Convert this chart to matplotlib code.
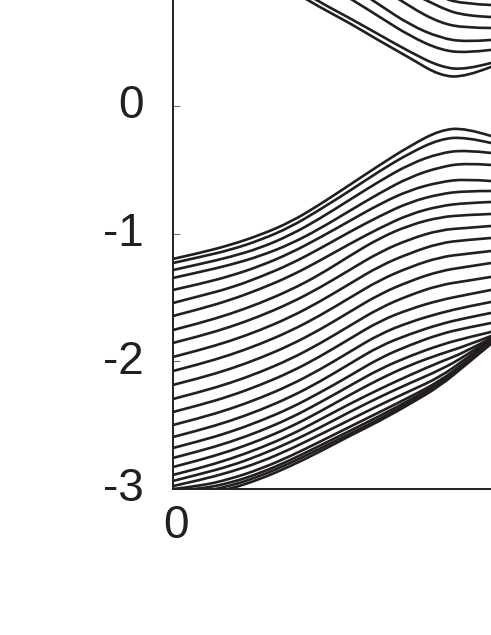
import numpy as np
import matplotlib
matplotlib.use('Agg')
import matplotlib.pyplot as plt
from matplotlib.path import Path
from matplotlib.patches import PathPatch
from matplotlib.transforms import ScaledTranslation

plt.rcParams['font.family'] = ['Liberation Sans', 'DejaVu Sans']

# k grid (left edge = 0, right crop edge = 1)
k_grid = [0, 0.085, 0.18, 0.275, 0.37, 0.46, 0.555, 0.65, 0.745, 0.84, 0.92, 1.0]

# lower band family, energies at each k of k_grid
lower_bands = [
    [-1.198, -1.151, -1.089, -1.010, -0.909, -0.775, -0.619, -0.462, -0.313, -0.188, -0.172, -0.235],
    [-1.230, -1.183, -1.128, -1.050, -0.948, -0.815, -0.666, -0.509, -0.368, -0.258, -0.243, -0.290],
    [-1.285, -1.238, -1.183, -1.112, -1.010, -0.885, -0.736, -0.588, -0.454, -0.368, -0.345, -0.368],
    [-1.347, -1.300, -1.245, -1.175, -1.081, -0.964, -0.822, -0.682, -0.556, -0.478, -0.447, -0.462],
    [-1.441, -1.394, -1.332, -1.253, -1.152, -1.034, -0.901, -0.768, -0.658, -0.595, -0.572, -0.588],
    [-1.543, -1.488, -1.426, -1.339, -1.238, -1.120, -0.987, -0.862, -0.752, -0.689, -0.666, -0.666],
    [-1.645, -1.590, -1.520, -1.433, -1.332, -1.214, -1.081, -0.956, -0.846, -0.783, -0.760, -0.752],
    [-1.755, -1.700, -1.629, -1.543, -1.441, -1.324, -1.175, -1.034, -0.932, -0.870, -0.854, -0.846],
    [-1.856, -1.802, -1.731, -1.645, -1.543, -1.426, -1.285, -1.144, -1.042, -0.971, -0.956, -0.940],
    [-1.966, -1.911, -1.841, -1.755, -1.653, -1.535, -1.394, -1.253, -1.152, -1.073, -1.050, -1.034],
    [-2.076, -2.021, -1.950, -1.864, -1.762, -1.645, -1.504, -1.363, -1.261, -1.183, -1.159, -1.136],
    [-2.185, -2.131, -2.060, -1.974, -1.872, -1.755, -1.614, -1.473, -1.371, -1.292, -1.261, -1.230],
    [-2.295, -2.240, -2.170, -2.084, -1.982, -1.864, -1.723, -1.582, -1.480, -1.402, -1.371, -1.339],
    [-2.397, -2.342, -2.272, -2.185, -2.084, -1.966, -1.825, -1.684, -1.590, -1.520, -1.480, -1.441],
    [-2.499, -2.444, -2.373, -2.287, -2.185, -2.068, -1.927, -1.786, -1.692, -1.621, -1.574, -1.535],
    [-2.593, -2.538, -2.467, -2.381, -2.279, -2.162, -2.021, -1.880, -1.786, -1.708, -1.661, -1.621],
    [-2.679, -2.624, -2.554, -2.467, -2.366, -2.248, -2.115, -1.974, -1.872, -1.786, -1.739, -1.700],
    [-2.757, -2.702, -2.632, -2.546, -2.444, -2.326, -2.193, -2.060, -1.958, -1.872, -1.817, -1.770],
    [-2.828, -2.773, -2.702, -2.616, -2.514, -2.397, -2.264, -2.138, -2.029, -1.943, -1.880, -1.802],
    [-2.890, -2.836, -2.765, -2.679, -2.577, -2.460, -2.334, -2.217, -2.107, -2.005, -1.927, -1.817],
    [-2.937, -2.883, -2.820, -2.734, -2.632, -2.522, -2.397, -2.279, -2.170, -2.068, -1.958, -1.825],
    [-2.977, -2.930, -2.867, -2.789, -2.687, -2.577, -2.460, -2.342, -2.232, -2.123, -1.982, -1.833],
    [-3.000, -2.977, -2.922, -2.843, -2.742, -2.632, -2.514, -2.397, -2.279, -2.154, -2.005, -1.841],
    [-3.016, -3.000, -2.953, -2.875, -2.773, -2.663, -2.546, -2.428, -2.303, -2.170, -2.013, -1.849],
    [-3.039, -3.024, -2.977, -2.898, -2.796, -2.687, -2.569, -2.452, -2.319, -2.178, -2.021, -1.856],
    [-3.063, -3.047, -3.000, -2.922, -2.820, -2.710, -2.585, -2.467, -2.334, -2.193, -2.029, -1.864],
]

# upper band family: each one enters from the top, so it starts later on the grid
upper_start = [3, 4, 5, 6, 7, 8, 8]
upper_bands = [
    [1.034, 0.909, 0.776, 0.650, 0.509, 0.376, 0.235, 0.227, 0.306],
    [0.948, 0.815, 0.689, 0.556, 0.423, 0.306, 0.282, 0.337],
    [0.987, 0.846, 0.697, 0.548, 0.439, 0.415, 0.439],
    [0.948, 0.791, 0.635, 0.533, 0.501, 0.517],
    [0.932, 0.776, 0.650, 0.611, 0.611],
    [0.893, 0.768, 0.705, 0.697],
    [0.987, 0.846, 0.799, 0.791],
]

line_color = '#231f20'


def smooth_path(xs, ys):
    # quadratic bezier through midpoints, the read values act as control points
    pts = list(zip(xs, ys))
    verts = [pts[0]]
    codes = [Path.MOVETO]
    for i in range(1, len(pts) - 1):
        if i < len(pts) - 2:
            end = ((pts[i][0] + pts[i + 1][0]) / 2, (pts[i][1] + pts[i + 1][1]) / 2)
        else:
            end = pts[i + 1]
        verts += [pts[i], end]
        codes += [Path.CURVE3, Path.CURVE3]
    if len(pts) == 2:
        verts.append(pts[1])
        codes.append(Path.LINETO)
    return Path(verts, codes)


fig = plt.figure(figsize=(4.91, 6.35), dpi=100)
ax = fig.add_axes([173 / 491, 146 / 635, 318 / 491, 489 / 635])

for band in lower_bands:
    ax.add_patch(PathPatch(smooth_path(k_grid, band), fill=False,
                           edgecolor=line_color, lw=1.9, capstyle='round'))

for start, band in zip(upper_start, upper_bands):
    ax.add_patch(PathPatch(smooth_path(k_grid[start:start + len(band)], band),
                           fill=False, edgecolor=line_color, lw=1.9, capstyle='round'))

ax.set_xlim(0, 1)
ax.set_ylim(-3.0, 0.83)

ax.spines['top'].set_visible(False)
ax.spines['right'].set_visible(False)
for side in ['left', 'bottom']:
    ax.spines[side].set_linewidth(1.4)
    ax.spines[side].set_color(line_color)
    ax.spines[side].set_zorder(5)

ax.set_yticks([0, -1, -2, -3])
ax.set_yticklabels(['0', '-1', '-2', '-3'])
ax.set_xticks([0])
ax.set_xticklabels(['0'])
ax.tick_params(axis='y', direction='in', length=5, width=0.8, color='#777777',
               labelsize=33, pad=21, labelcolor=line_color)
ax.tick_params(axis='x', direction='in', length=0, labelsize=33, pad=11,
               labelcolor=line_color)

for lab in ax.get_yticklabels():
    lab.set_transform(lab.get_transform() + ScaledTranslation(0, 0.045, fig.dpi_scale_trans))
for lab in ax.get_xticklabels():
    lab.set_transform(lab.get_transform() + ScaledTranslation(0.03, 0, fig.dpi_scale_trans))

fig.savefig('out.png', dpi=100)
